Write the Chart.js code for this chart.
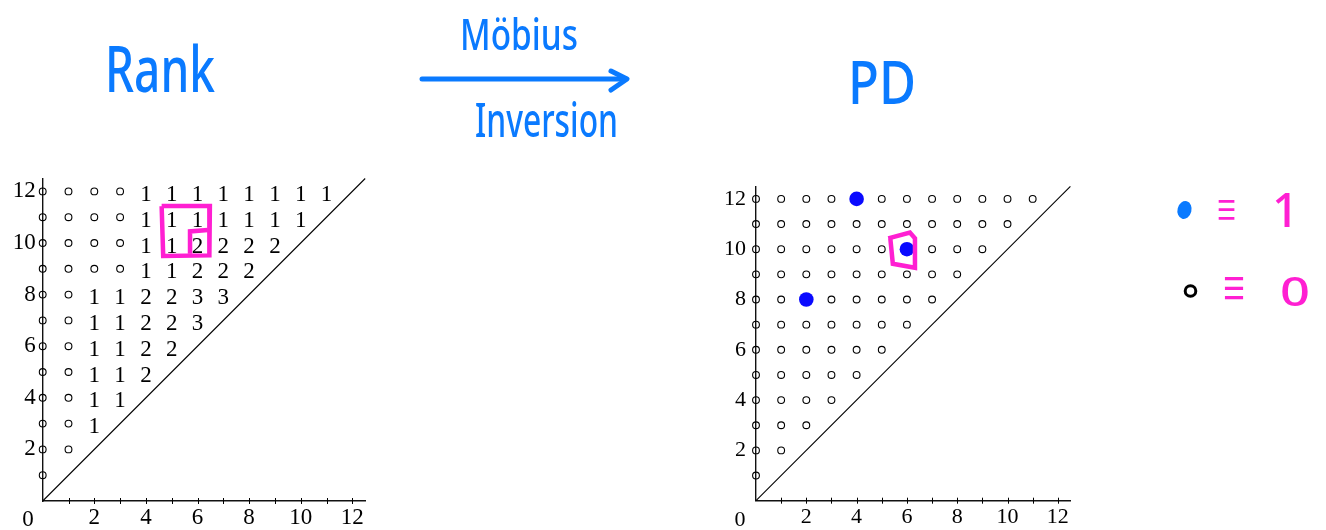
<!DOCTYPE html>
<html><head><meta charset="utf-8">
<script src="https://cdn.jsdelivr.net/npm/chart.js@4.4.1/dist/chart.umd.min.js"></script>
<style>
html,body{margin:0;padding:0;background:#fff;width:1326px;height:530px;overflow:hidden;}
body{position:relative;}
canvas{position:absolute;}
#ink{position:absolute;left:0;top:0;pointer-events:none;}
</style></head><body>
<canvas id="rank" width="380" height="360" style="left:0px;top:170px"></canvas>
<canvas id="pd" width="400" height="360" style="left:700px;top:170px"></canvas>
<svg id="ink" width="1326" height="530" xmlns="http://www.w3.org/2000/svg">
  <g fill="#0a7aff" font-family="Noto Sans" font-weight="500">
    <text x="105" y="92" font-size="64" textLength="110" lengthAdjust="spacingAndGlyphs">Rank</text>
    <text x="460" y="50" font-size="44" textLength="118" lengthAdjust="spacingAndGlyphs">Möbius</text>
    <text x="475" y="137" font-size="48" textLength="143" lengthAdjust="spacingAndGlyphs">Inversion</text>
    <text x="848" y="104" font-size="60" textLength="68" lengthAdjust="spacingAndGlyphs">PD</text>
  </g>
  <g stroke="#0a7aff" stroke-width="5" stroke-linecap="round" stroke-linejoin="round" fill="none">
    <line x1="422" y1="79" x2="626" y2="79"/>
    <polyline points="611,71 627,79 611,90"/>
  </g>
  <ellipse cx="1184.5" cy="210" rx="7" ry="9" transform="rotate(15 1184.5 210)" fill="#0a7aff"/>
  <circle cx="1190.5" cy="291" r="5.3" fill="none" stroke="#000" stroke-width="3"/>
  <g fill="#ff1fd2" font-family="Noto Sans" font-weight="500">
    <text x="1217" y="229" font-size="58" textLength="19" lengthAdjust="spacingAndGlyphs">≡</text>
    <text x="1223" y="310" font-size="66" textLength="22" lengthAdjust="spacingAndGlyphs">≡</text>
    <text x="1272" y="227" font-size="47">1</text>
    <text x="1280" y="306" font-size="40" textLength="30" lengthAdjust="spacingAndGlyphs">0</text>
  </g>
</svg>
<script>
// ---------------- data ----------------
const axisMax = 12.5;
const labelTicks = [2, 4, 6, 8, 10, 12];
const minorTicks = [1, 2, 3, 4, 5, 6, 7, 8, 9, 10, 11, 12];
const diagonal = [0, 12.5];

// Rank invariant, row y (death), columns x = 0 .. y-1 (birth); 0 drawn as a small circle
const rankY1  = [0];
const rankY2  = [0, 0];
const rankY3  = [0, 0, 1];
const rankY4  = [0, 0, 1, 1];
const rankY5  = [0, 0, 1, 1, 2];
const rankY6  = [0, 0, 1, 1, 2, 2];
const rankY7  = [0, 0, 1, 1, 2, 2, 3];
const rankY8  = [0, 0, 1, 1, 2, 2, 3, 3];
const rankY9  = [0, 0, 0, 0, 1, 1, 2, 2, 2];
const rankY10 = [0, 0, 0, 0, 1, 1, 2, 2, 2, 2];
const rankY11 = [0, 0, 0, 0, 1, 1, 1, 1, 1, 1, 1];
const rankY12 = [0, 0, 0, 0, 1, 1, 1, 1, 1, 1, 1, 1];

// Persistence diagram (Möbius inversion), same grid; 1 = filled dot, 0 = circle
const pdY1  = [0];
const pdY2  = [0, 0];
const pdY3  = [0, 0, 0];
const pdY4  = [0, 0, 0, 0];
const pdY5  = [0, 0, 0, 0, 0];
const pdY6  = [0, 0, 0, 0, 0, 0];
const pdY7  = [0, 0, 0, 0, 0, 0, 0];
const pdY8  = [0, 0, 1, 0, 0, 0, 0, 0];
const pdY9  = [0, 0, 0, 0, 0, 0, 0, 0, 0];
const pdY10 = [0, 0, 0, 0, 0, 0, 1, 0, 0, 0];
const pdY11 = [0, 0, 0, 0, 0, 0, 0, 0, 0, 0, 0];
const pdY12 = [0, 0, 0, 0, 1, 0, 0, 0, 0, 0, 0, 0];

// hand-drawn pink highlight paths (data units)
const rankBox   = [[4.61, 11.43], [6.48, 11.43], [6.46, 9.52], [4.67, 9.5], [4.61, 11.43]];
const rankInner = [[5.71, 9.58], [5.71, 10.45], [6.4, 10.5]];
const pdBox     = [[5.26, 10.43], [6.12, 10.66], [6.32, 10.43], [6.32, 9.26], [5.44, 9.42], [5.34, 10.43]];

const rankRows = [rankY1, rankY2, rankY3, rankY4, rankY5, rankY6, rankY7, rankY8, rankY9, rankY10, rankY11, rankY12];
const pdRows = [pdY1, pdY2, pdY3, pdY4, pdY5, pdY6, pdY7, pdY8, pdY9, pdY10, pdY11, pdY12];

// ---------------- helpers ----------------
const PINK = '#ff1fd2';
function cells(rows) {
  const out = [];
  rows.forEach((row, i) => row.forEach((v, x) => out.push({x: x, y: i + 1, v: v})));
  return out;
}
const toPts = arr => arr.map(p => ({x: p[0], y: p[1]}));
const diagPts = diagonal.map(v => ({x: v, y: v}));

const numberText = {
  id: 'numberText',
  afterDatasetDraw(chart, args) {
    const ds = chart.data.datasets[args.index];
    if (!ds.textFont) return;
    const ctx = chart.ctx;
    ctx.save();
    ctx.font = ds.textFont;
    ctx.fillStyle = '#000';
    ctx.textAlign = 'center';
    ctx.textBaseline = 'alphabetic';
    args.meta.data.forEach((el, j) => ctx.fillText(String(ds.data[j].v), el.x, el.y + 9.5));
    ctx.restore();
  }
};
const axisDecor = {
  id: 'axisDecor',
  beforeDatasetsDraw(chart, args, opts) {
    const {ctx, scales: {x, y}} = chart;
    const y0 = y.getPixelForValue(0);
    ctx.save();
    ctx.strokeStyle = '#000';
    ctx.lineWidth = 1;
    minorTicks.forEach(v => {
      const px = Math.round(x.getPixelForValue(v)) + 0.5;
      ctx.beginPath(); ctx.moveTo(px, y0 - 3); ctx.lineTo(px, y0 + 3); ctx.stroke();
    });
    ctx.fillStyle = '#000';
    ctx.font = opts.font;
    ctx.textAlign = 'center';
    ctx.textBaseline = 'alphabetic';
    ctx.fillText('0', x.getPixelForValue(0) + opts.dx, y0 + opts.dy);
    ctx.restore();
  }
};

function scaleCfg(size, pad, fitKey, fitVal) {
  return {
    type: 'linear', min: 0, max: axisMax,
    ticks: {
      stepSize: 1, includeBounds: false, autoSkip: false, maxRotation: 0, minRotation: 0,
      color: '#000', padding: pad,
      font: {family: 'Liberation Serif', size: size},
      callback: v => labelTicks.includes(v) ? String(v) : ''
    },
    grid: {display: false, drawTicks: false, tickLength: 0},
    border: {display: true, color: '#111', width: 1.4},
    afterFit(s) {
      s[fitKey] = fitVal;
      s.paddingTop = 0; s.paddingBottom = 0; s.paddingLeft = 0; s.paddingRight = 0;
    }
  };
}

function makeChart(id, datasets, geo) {
  return new Chart(document.getElementById(id), {
    type: 'scatter',
    data: {datasets: datasets},
    options: {
      responsive: false, animation: false, devicePixelRatio: 1,
      events: [],
      layout: {padding: {left: 0, top: geo.top, right: geo.right, bottom: 0}},
      scales: {
        x: scaleCfg(geo.font, geo.xpad, 'height', geo.xh),
        y: scaleCfg(geo.font, geo.ypad, 'width', geo.yw)
      },
      plugins: {
        legend: {display: false}, tooltip: {enabled: false},
        axisDecor: {font: geo.font + 'px "Liberation Serif"', dx: geo.zx, dy: 25}
      }
    },
    plugins: [numberText, axisDecor]
  });
}

const lineDs = (pts, color, w) => ({
  data: pts, showLine: true, borderColor: color, borderWidth: w, pointRadius: 0,
  backgroundColor: color, clip: false, tension: 0
});
const circleDs = pts => ({
  data: pts, pointStyle: 'circle', pointRadius: 3.4, borderWidth: 1.1,
  borderColor: '#000', backgroundColor: 'rgba(0,0,0,0)', clip: false
});

// ---------------- Rank chart ----------------
const rankCells = cells(rankRows);
makeChart('rank', [
  lineDs(toPts(rankBox), PINK, 4.5),
  lineDs(toPts(rankInner), PINK, 4.5),
  {data: rankCells.filter(c => c.v > 0), pointRadius: 0, textFont: '23px "Liberation Serif"'},
  circleDs(rankCells.filter(c => c.v === 0)),
  lineDs(diagPts, '#000', 1.1)
], {top: 8.5, right: 14.8, xh: 29, yw: 42.7, font: 23, xpad: 3, ypad: 7, zx: -14.7});

// ---------------- PD chart ----------------
const pdCells = cells(pdRows);
makeChart('pd', [
  lineDs(toPts(pdBox), PINK, 4.5),
  {data: pdCells.filter(c => c.v > 0), pointStyle: 'circle', pointRadius: 7.3, borderWidth: 0,
   backgroundColor: '#0a0aff', borderColor: '#0a0aff', clip: false},
  circleDs(pdCells.filter(c => c.v === 0)),
  lineDs(diagPts, '#000', 1.1)
], {top: 16.3, right: 29.6, xh: 29.3, yw: 56, font: 22, xpad: 3, ypad: 10, zx: -16});
</script>
</body></html>
